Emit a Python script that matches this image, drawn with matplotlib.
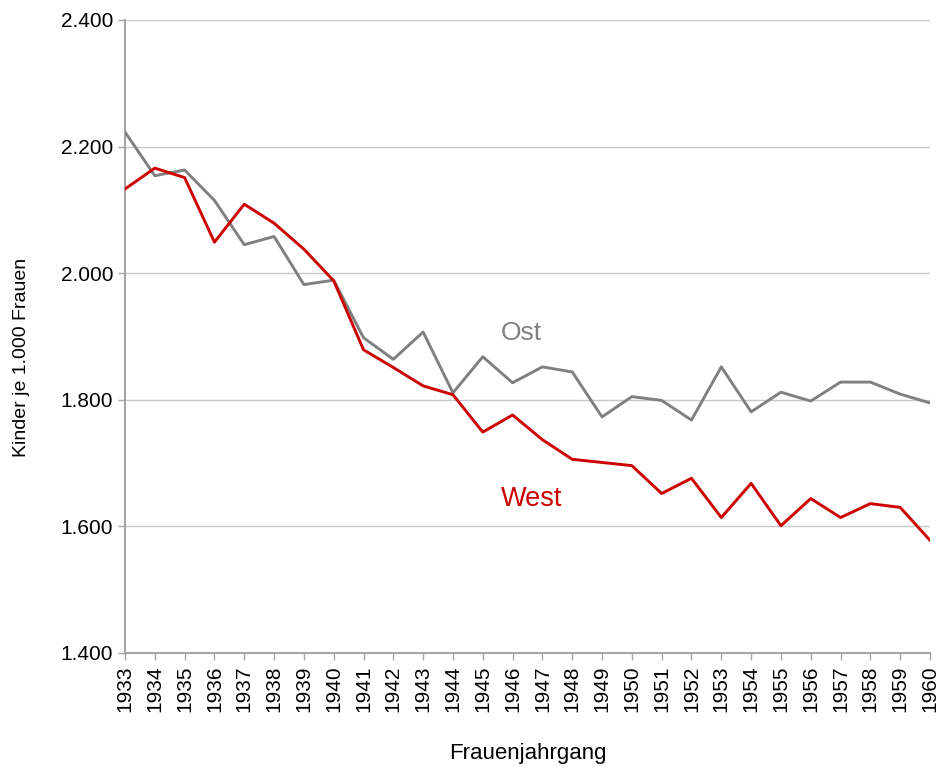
import matplotlib
matplotlib.use("Agg")
import matplotlib.pyplot as plt

years = list(range(1933, 1961))
ost = [2.223, 2.154, 2.163, 2.115, 2.045, 2.058, 1.982, 1.989, 1.898, 1.864,
       1.907, 1.811, 1.868, 1.827, 1.852, 1.844, 1.773, 1.805, 1.799, 1.768,
       1.852, 1.781, 1.812, 1.798, 1.828, 1.828, 1.809, 1.795]
west = [2.133, 2.166, 2.151, 2.049, 2.109, 2.079, 2.038, 1.988, 1.879, 1.851,
        1.822, 1.808, 1.749, 1.776, 1.737, 1.706, 1.701, 1.696, 1.652, 1.676,
        1.614, 1.668, 1.601, 1.644, 1.614, 1.636, 1.630, 1.578]
yticks = [1.4, 1.6, 1.8, 2.0, 2.2, 2.4]
ytick_labels = ["1.400", "1.600", "1.800", "2.000", "2.200", "2.400"]

GRAY = "#808080"
RED = "#CC0000"
AXC = "#A6A6A6"
base_font = ["Liberation Sans", "DejaVu Sans"]
plt.rcParams["font.family"] = base_font

fig = plt.figure(figsize=(9.42, 7.67), dpi=100)
ax = fig.add_axes([125 / 942, 1 - 653 / 767, 805 / 942, 633 / 767])

ax.plot(years, ost, color=GRAY, lw=2.1, zorder=3)
ax.plot(years, west, color=RED, lw=2.1, zorder=4)

ax.set_xlim(1933, 1960)
ax.set_ylim(1.4, 2.4)
ax.set_yticks(yticks)
ax.set_yticklabels(ytick_labels, fontsize=15)
ax.set_xticks(years)
ax.set_xticklabels([str(y) for y in years], rotation=90, fontsize=15)

ax.grid(axis="y", color="#C8C8C8", lw=1.0, zorder=0)
ax.set_axisbelow(True)
for s in ["top", "right"]:
    ax.spines[s].set_visible(False)
for s in ["left", "bottom"]:
    ax.spines[s].set_color(AXC)
    ax.spines[s].set_linewidth(1.5)
ax.tick_params(axis="both", colors=AXC, labelcolor="black", length=5, width=1.0, direction="out")
ax.tick_params(axis="x", pad=4)

ax.set_ylabel("Kinder je 1.000 Frauen", fontsize=14)
ax.yaxis.set_label_coords(-95 / 805, (653 - 357) / 633)
ax.set_xlabel("Frauenjahrgang", fontsize=16)
ax.xaxis.set_label_coords((528 - 125) / 805, -(743 - 653) / 633)

ax.text(1946.28, 1.9055, "Ost", color=GRAY, fontsize=19, ha="center", va="center")
ax.text(1946.65, 1.643, "West", color=RED, fontsize=19.5, ha="center", va="center")

fig.savefig("out.png", dpi=100)
